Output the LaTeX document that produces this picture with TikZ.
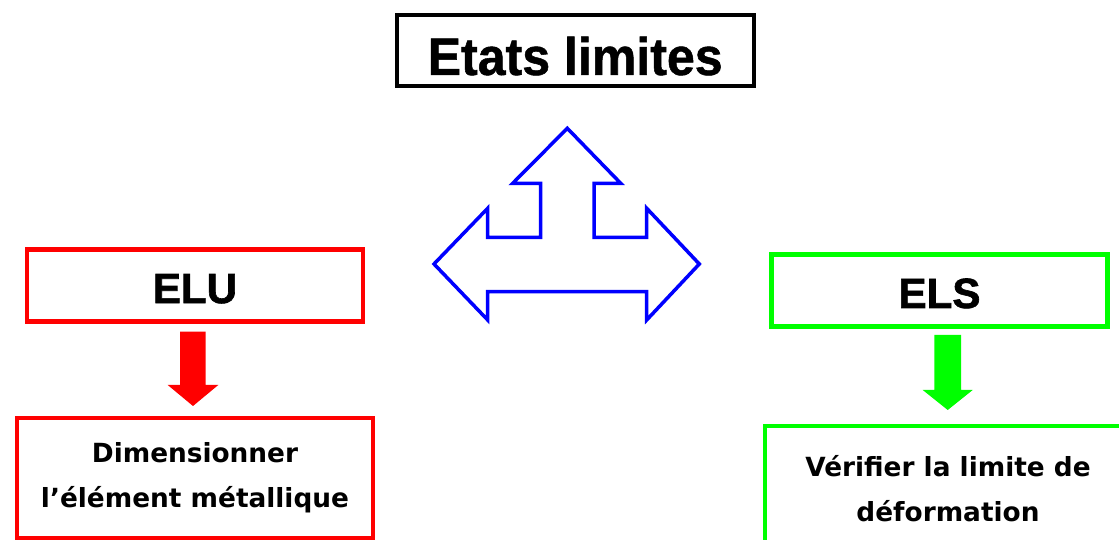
\documentclass[tikz,border=0pt]{standalone}
\usepackage{fontspec}
\setsansfont{Liberation Sans}
\newfontfamily\titlefont{Liberation Sans}[FakeStretch=0.95, FakeBold=1]
\newfontfamily\headfont{Liberation Sans}[FakeBold=1.5]
\newfontfamily\notefont{DejaVu Sans}
\usetikzlibrary{positioning}

\tikzset{
	statebox/.style={draw, line width=2.8pt, minimum width=6.72cm, minimum height=1.434cm, inner sep=0pt, text height=0.69cm, text depth=0pt, font=\headfont\bfseries\fontsize{24}{28}\selectfont},
	notebox/.style={draw, inner sep=0pt},
	notetext/.style={align=center, font=\notefont\bfseries\fontsize{15}{25.5}\selectfont}
}

\begin{document}
\begin{tikzpicture}[x=0.02cm, y=-0.02cm]
		\useasboundingbox (0,0) rectangle (1119,540);
		\clip (0,0) rectangle (1119,540);
		\node[draw, line width=2.3pt, minimum width=7.14cm, minimum height=1.414cm, inner sep=0pt, text height=0.97cm, text depth=0pt, font=\titlefont\bfseries\fontsize{30}{36}\selectfont] (etats) at (575.2,50.7) {Etats limites};
		\draw[blue, line width=2pt, line join=miter] (567.3,128.3) -- (620.7,183.3) -- (594,183.3) -- (594,237.3) -- (646.7,237.3) -- (646.7,208.3) -- (699.3,264) -- (646.7,320) -- (646.7,291.7) -- (487.7,291.7) -- (487.7,320) -- (434,264) -- (487.7,208.3) -- (487.7,237.3) -- (540.7,237.3) -- (540.7,183.3) -- (512.7,183.3) -- cycle;
		\node[statebox, draw=red] (elu) at (195,285.8) {ELU};
		\fill[red] (180,331.7) -- (205.7,331.7) -- (205.7,385) -- (218.3,385) -- (193,406) -- (167.7,385) -- (180,385) -- cycle;
		\node[notebox, draw=red, line width=2.4pt, minimum width=7.12cm, minimum height=2.4cm, notetext] (dim) at (195,478) {Dimensionner\\l’élément métallique};
		\node[statebox, draw=green] (els) at (939.5,290.7) {ELS};
		\fill[green] (934.3,335) -- (961,335) -- (961,390) -- (972.7,390) -- (947.7,410) -- (922.7,390) -- (934.3,390) -- cycle;
		\node[notebox, draw=green, line width=2.1pt, minimum width=7.5cm, minimum height=2.68cm] (verbox) at (952.6,492.8) {};
		\node[notetext] (vertext) at (948,489) {Vérifier la limite de\\déformation};
	\end{tikzpicture}
\end{document}
